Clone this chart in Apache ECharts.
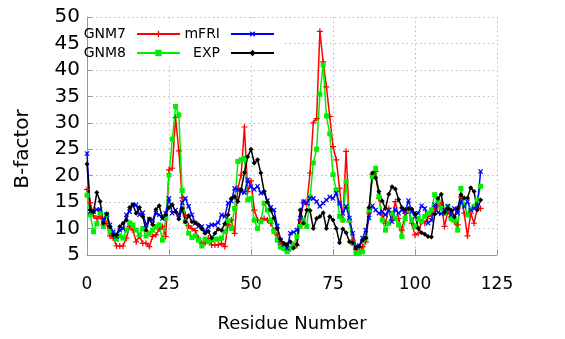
<!DOCTYPE html>
<html>
<head>
<meta charset="utf-8">
<script src="https://cdn.jsdelivr.net/npm/echarts@6/dist/echarts.min.js"></script>
<style>
  html, body { margin: 0; padding: 0; background: #fff; }
  #main { width: 565px; height: 339px; }
</style>
</head>
<body>
<div id="main"></div>
<script>
// B-factor per residue, residues 0..120
var gnm7 = [17.4,14.9,12.4,11.9,12.3,10.7,11,8.6,8.2,6.7,6.7,6.7,8.2,10.4,9.7,7.5,8.6,7.2,7.2,6.6,
  8.5,8.8,9.9,10.4,8.5,21.1,21.4,31,24.7,15.8,12.6,10.5,10,9.6,8.2,7.2,7.2,8.2,6.9,6.9,
  6.9,7.2,6.6,10.7,11.6,9.1,17.6,20.1,29.2,17,19,13.5,11.6,11.6,11.9,11.6,11,9.7,8.8,7,
  6.3,6,6.2,6.9,6.8,11.6,15,14.6,20.5,30,30.8,47.3,41.5,36.8,31.2,25.5,23,17.6,11.6,24.6,
  11.3,7.8,6,5.6,6.6,7.5,12.9,20.2,20.8,15.7,12.6,11,13.8,11.6,15.1,11.9,9.7,12.9,13.5,11,
  8.8,9.1,11.3,11,12.3,12.6,13.5,14.2,14.9,10.4,13.2,12.1,11.3,10.7,16,12.9,8.6,12.9,11,13.8,13.8];
var gnm8 = [16.3,12.6,9.4,10.9,12.9,10.4,12.6,9.4,9,8,8.6,8.2,9.7,11.1,10.7,9.7,8.8,10,8.6,9.1,
  9.7,10.4,10.7,7.8,12,20.1,26.9,33.1,31.5,17.2,11.3,9.1,8.3,8.6,7.8,6.7,8,7.5,7.8,8,
  8,8.2,9.4,11.5,10,13.8,22.7,23,23.3,15.4,15.7,11.6,10,11.3,14.8,13.5,11.5,9.4,7.8,6.5,
  6.2,5.6,6.3,6.9,8.5,10.4,11.6,10.4,16,22.4,25,35.4,40.9,31.3,27.9,20.2,17.3,12.3,11.6,18.9,
  11.6,7.2,5.3,5.5,5.6,8.2,13.5,19.8,21.4,16,11.6,9.7,11,12.9,11.9,10.7,8.5,11.9,13.5,11.6,
  10.4,11.9,11.3,12.3,12.9,13.5,16.4,15.1,13.8,12.9,14.2,11.9,11.6,9.7,17.6,14.5,12.6,13.6,14.2,15.4,18];
var mfri = [24.2,13.2,13.2,13.6,13.6,11.6,12.6,10.7,9.4,8.5,9.7,10,12.6,13.2,14.5,14.5,12.6,13,10.7,11.8,
  11.6,12.9,12.6,11.9,12.9,15.7,12.9,13.5,12.6,14.9,15.7,14.2,12.6,11,10.4,10.4,9.4,10.4,10.7,10.7,
  11.1,12.6,12.3,14.8,15.2,17.6,17.3,17,16.8,19.2,17.9,17.4,18,16.7,16.8,15.3,14,13.5,10.5,7.8,
  7,6.3,9.1,9.3,9.7,12,15.1,14.8,15.7,15.7,15.1,14.2,14.8,15.4,16,15.7,16.7,14.8,12.9,14.2,
  12,9.1,6.6,6.8,8.2,9.7,12,14.3,13.5,12.9,13.2,12.6,13.5,11.3,13.6,12.9,13.5,13.2,15.3,13.2,
  12.3,12.9,14.3,13.8,11,11.6,14.5,13,12.8,13.5,14.2,12.6,13.8,12.9,15.1,14.2,15.1,13.5,13.8,14.2,20.8];
var exp = [22.2,13.5,13.2,16.8,15.1,11,12.8,10.4,8.8,8.8,10.4,11,11.6,14,14.5,12.9,14,12.3,9.7,11.8,
  10.7,13.6,14.3,12.1,12.6,14,14.5,13.2,11.8,13.8,11.3,12.4,11.3,11.1,10.7,9.9,9.1,9.5,8.2,9.1,
  9.9,9.7,10.9,12.6,15.7,16,15.1,17.4,20.6,23.6,25,22.4,23,20.5,17,15,13.5,12,10,8,
  7.2,7,7.5,6.3,7,13.5,11,13.5,13.4,10,11.9,12.3,13,10,12.3,11.6,10,7.3,9.9,9.2,
  7.5,7.3,6.3,6.6,7.8,8.2,14,20.5,19.6,17,15.2,13.8,16.5,17.9,17.5,15.5,14,13.6,13.8,13.7,
  12.8,10,9.2,8.9,8.5,8.4,12.7,15.7,16.5,13,13.8,13.5,12.2,13.8,16.4,15.8,15.8,17.7,17,13.5,15.4];

var xTicks = [0, 25, 50, 75, 100, 125];
var yTicks = [5, 10, 15, 20, 25, 30, 35, 40, 45, 50];

var font = 'DejaVu Sans';
var plusPath = 'path://M3.2,0H4.8V3.2H8V4.8H4.8V8H3.2V4.8H0V3.2H3.2Z';

function pairs(arr) {
  return arr.map(function (v, i) { return [i, v]; });
}

function makeSeries(name, arr, color, symbol, size, rotate) {
  return {
    name: name,
    type: 'line',
    data: pairs(arr),
    symbol: symbol,
    symbolSize: size,
    symbolRotate: rotate || 0,
    showAllSymbol: true,
    color: color,
    lineStyle: { color: color, width: 1.5 },
    itemStyle: { color: color },
    emphasis: { disabled: true },
    animation: false
  };
}

function legendAt(name, right, top) {
  return {
    data: [name],
    right: right,
    top: top,
    align: 'right',
    padding: 0,
    itemWidth: 43,
    itemHeight: 8,
    textStyle: { fontFamily: font, fontSize: 14, color: '#000', padding: [0, 6, 0, 0] },
    selectedMode: false
  };
}

var grid = { color: '#bbb', type: [1.5, 3], width: 1 };

var chart = echarts.init(document.getElementById('main'));
chart.setOption({
  animation: false,
  backgroundColor: '#fff',
  grid: { left: 87, right: 68, top: 17, bottom: 84 },
  legend: [
    legendAt('GNM7', 384, 27),
    legendAt('GNM8', 384, 46),
    legendAt('mFRI', 290, 27),
    legendAt('EXP', 290, 46)
  ],
  graphic: [{
    type: 'rect', z: 1,
    shape: { x: 88, y: 22, width: 196, height: 41 },
    style: { fill: '#fff' }
  }],
  xAxis: {
    type: 'value',
    min: xTicks[0], max: xTicks[xTicks.length - 1], interval: 25,
    name: 'Residue Number',
    nameLocation: 'middle',
    nameGap: 60,
    nameTextStyle: { fontFamily: font, fontSize: 18, color: '#000' },
    axisLine: { show: true, lineStyle: { color: '#999', width: 1 } },
    axisTick: { show: true, inside: true, length: 6, lineStyle: { color: '#999' } },
    axisLabel: { margin: 21, fontFamily: font, fontSize: 17, color: '#000' },
    splitLine: { show: true, lineStyle: grid }
  },
  yAxis: {
    type: 'value',
    min: yTicks[0], max: yTicks[yTicks.length - 1], interval: 5,
    name: 'B-factor',
    nameLocation: 'middle',
    nameGap: 54,
    nameTextStyle: { fontFamily: font, fontSize: 20, color: '#000', padding: [0, 26, 0, 0] },
    axisLine: { show: true, lineStyle: { color: '#999', width: 1 } },
    axisTick: { show: true, inside: true, length: 6, lineStyle: { color: '#999' } },
    axisLabel: { margin: 7, fontFamily: font, fontSize: 20, color: '#000' },
    splitLine: { show: true, lineStyle: grid }
  },
  series: [
    makeSeries('GNM7', gnm7, '#ff0000', plusPath, 6, 0),
    makeSeries('GNM8', gnm8, '#00ee00', 'rect', 5, 0),
    makeSeries('mFRI', mfri, '#0000ff', plusPath, 6, 45),
    makeSeries('EXP', exp, '#000000', 'diamond', 5, 0)
  ]
});
</script>
</body>
</html>
